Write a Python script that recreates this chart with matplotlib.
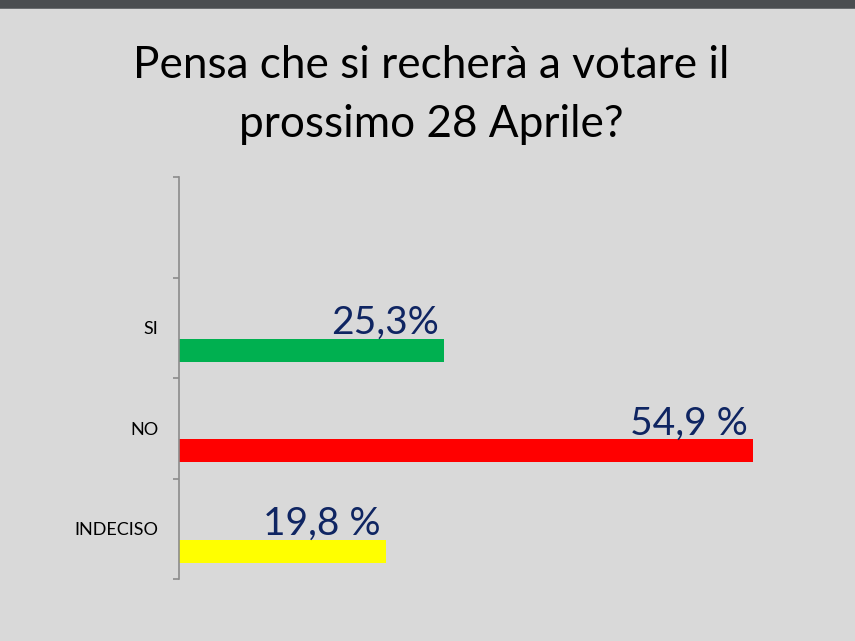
import matplotlib
matplotlib.use("Agg")
import matplotlib.pyplot as plt
from matplotlib.patches import Rectangle
import matplotlib.transforms as mtransforms
import numpy as np

# ---- data ----
title_lines = ["Pensa che si recherà a votare il", "prossimo 28 Aprile?"]
categories = ["SI", "NO", "INDECISO"]
values = [25.3, 54.9, 19.8]
value_labels = ["25,3%", "54,9 %", "19,8 %"]
bar_colors = ["#00b050", "#ff0000", "#ffff00"]

FONT = ["Lato", "DejaVu Sans"]
BG = "#d9d9d9"
W, H = 855, 641

fig = plt.figure(figsize=(W / 100, H / 100), dpi=100, facecolor=BG)

# top dark strip
fig.patches.append(Rectangle((0, 1 - 9 / H), 1, 9 / H, transform=fig.transFigure,
                             facecolor="#4a4d50", edgecolor="none", zorder=0))
fig.patches.append(Rectangle((0, 1 - 9 / H), 1, 1.5 / H, transform=fig.transFigure,
                             facecolor="#6a6d70", edgecolor="none", zorder=0))

# title
fig.text(431 / W, 1 - 78 / H, title_lines[0], ha="center", va="baseline",
         fontsize=31.8, family=FONT, color="black")
fig.text(431 / W, 1 - 137 / H, title_lines[1], ha="center", va="baseline",
         fontsize=31.8, family=FONT, color="black")

# axes
left, right = 179, 806.6
top, bottom = 177, 579
ax = fig.add_axes([left / W, 1 - bottom / H, (right - left) / W, (bottom - top) / H])
ax.set_facecolor("none")

n_slots = len(categories) + 1
slot_idx = np.arange(len(categories)) + 1
bar_offset = 0.224
bar_h = 0.229
ypos = slot_idx + 0.5 + bar_offset

ax.barh(ypos, values, height=bar_h, color=bar_colors, edgecolor="none", zorder=2)

ax.set_xlim(0, 60)
ax.set_ylim(n_slots, 0)

for sp in ["top", "right", "bottom"]:
    ax.spines[sp].set_visible(False)
ax.spines["left"].set_color("#8c8c8c")
ax.spines["left"].set_linewidth(1.2)
ax.set_xticks([])

ax.set_yticks(np.arange(n_slots + 1))
ax.set_yticklabels([])
ax.tick_params(axis="y", which="major", length=4, color="#8c8c8c", width=1.2)
ax.set_yticks(slot_idx + 0.5, minor=True)
ax.set_yticklabels(categories, minor=True, fontsize=13, family=FONT, color="black")
ax.tick_params(axis="y", which="minor", length=0, pad=15)

# value labels above bar ends
for v, y, lab in zip(values, ypos, value_labels):
    trans = mtransforms.offset_copy(ax.transData, fig=fig, x=-5, y=5, units="dots")
    ax.text(v, y - bar_h / 2, lab, transform=trans, ha="right", va="baseline",
            fontsize=28, family=FONT, color="#0f2562")

fig.savefig("out.png", dpi=100, facecolor=BG)
